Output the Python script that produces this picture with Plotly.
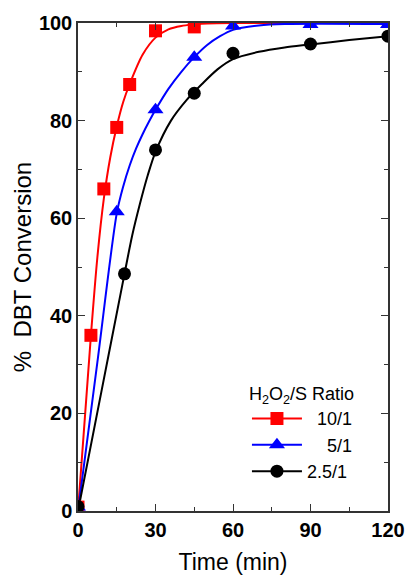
import plotly.graph_objects as go

time_10 = [0, 5, 10, 15, 20, 30, 45]
conv_10 = [0.8, 36, 66, 78.6, 87.4, 98.4, 99.2]

time_5 = [0, 15, 30, 45, 60, 90, 120]
conv_5 = [0.8, 61.3, 82.2, 93.0, 99.4, 99.7, 99.7]

time_25 = [0, 18, 30, 45, 60, 90, 120]
conv_25 = [0.9, 48.6, 74.0, 85.6, 93.8, 95.7, 97.3]

# ---- fitted curves (at several times) ----
fit_t_10 = [0, 5, 7.5, 10, 12.5, 15, 17.5, 20, 25, 30, 35, 40, 45, 50, 60, 120]
fit_c_10 = [0, 36, 52, 64, 72.5, 78.8, 83.8, 87.5, 93.5, 97, 98.7, 99.4, 99.7, 99.9, 100, 100]

fit_t_5 = [0, 7.5, 15, 17.5, 20, 22.5, 25, 27.5, 30, 35, 40, 45, 50, 55, 60, 70, 80, 120]
fit_c_5 = [0, 30.5, 61, 66.5, 70.8, 74.3, 77.2, 79.8, 82.2, 86.5, 90, 93, 95.5, 97.3, 98.6, 99.5, 99.8, 99.8]

fit_t_25 = [0, 9, 18, 21, 24, 27, 30, 36, 42, 48, 54, 60, 70, 80, 90, 105, 120]
fit_c_25 = [0, 24.3, 48.6, 56.5, 63, 68.8, 73.6, 80, 84.2, 87.5, 90.5, 92.6, 94.1, 95, 95.6, 96.5, 97.3]

series_names = ["\u00a0\u00a010/1", "\u00a0\u00a0\u00a0\u00a05/1", "2.5/1"]
series_colors = ["#ff0000", "#0000ff", "#000000"]
series_symbols = ["square", "triangle-up", "circle"]
marker_sizes = [13, 14, 13]

x_ticks = [0, 30, 60, 90, 120]
y_ticks = [0, 20, 40, 60, 80, 100]

SANS = "Liberation Sans, Arial, sans-serif"

fig = go.Figure()
points = [(time_10, conv_10), (time_5, conv_5), (time_25, conv_25)]
fits = [(fit_t_10, fit_c_10), (fit_t_5, fit_c_5), (fit_t_25, fit_c_25)]

for (fx, fy), col in zip(fits, series_colors):
    fig.add_trace(go.Scatter(
        x=fx, y=fy, mode="lines", showlegend=False, hoverinfo="skip",
        line=dict(color=col, width=2, shape="spline", smoothing=0.8),
    ))
for (px, py), col, sym, ms in zip(points, series_colors, series_symbols, marker_sizes):
    fig.add_trace(go.Scatter(
        x=px, y=py, mode="markers", showlegend=False,
        marker=dict(color=col, symbol=sym, size=ms), cliponaxis=True,
    ))
# legend entries (line + marker), no data of their own
for name, col, sym, ms in zip(series_names, series_colors, series_symbols, marker_sizes):
    fig.add_trace(go.Scatter(
        x=[None], y=[None], name=name, mode="lines+markers",
        line=dict(color=col, width=2),
        marker=dict(color=col, symbol=sym, size=ms),
    ))

axis_common = dict(
    showline=True, linecolor="#333333", linewidth=1.5, mirror="ticks",
    ticks="inside", ticklen=7, tickwidth=1.2, tickcolor="#333333",
    showgrid=False, zeroline=False,
    tickfont=dict(family=SANS, size=20, color="black", weight="bold"),
)

fig.update_xaxes(
    range=[0, 120], tickvals=x_ticks, ticktext=[str(v) for v in x_ticks],
    minor=dict(ticks="inside", ticklen=4, dtick=15, tick0=0, tickcolor="#333333"),
    title=dict(text="Time (min)", font=dict(family=SANS, size=23, color="black"), standoff=14),
    **axis_common,
)
fig.update_yaxes(
    range=[0, 100], tickvals=y_ticks, ticktext=[str(v) for v in y_ticks],
    minor=dict(ticks="inside", ticklen=4, dtick=10, tick0=0, tickcolor="#333333"),
    title=dict(text="%  DBT Conversion", font=dict(family=SANS, size=24, color="black"), standoff=0),
    **axis_common,
)

fig.update_layout(
    width=409, height=588,
    margin=dict(l=78, r=21, t=23, b=77, autoexpand=False),
    paper_bgcolor="white", plot_bgcolor="white",
    showlegend=True,
    legend=dict(
        x=0.545, y=0.275, xanchor="left", yanchor="top",
        bgcolor="rgba(0,0,0,0)", borderwidth=0,
        font=dict(family=SANS, size=18, color="black"),
        title=dict(text="H<sub>2</sub>O<sub>2</sub>/S Ratio",
                   font=dict(family=SANS, size=18, color="black")),
        itemwidth=50, tracegroupgap=0,
    ),
)

fig.write_html("out.html")
